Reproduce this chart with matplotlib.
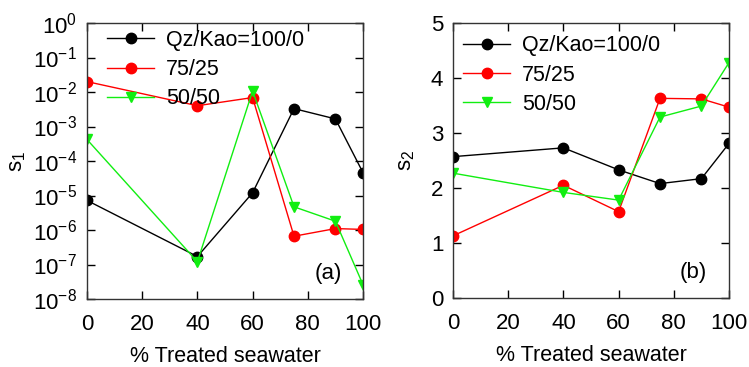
import numpy as np
import matplotlib.pyplot as plt
from matplotlib.ticker import FixedLocator, FuncFormatter

plt.rcParams['font.family'] = ['Liberation Sans', 'DejaVu Sans']
plt.rcParams['mathtext.fontset'] = 'custom'
plt.rcParams['mathtext.rm'] = 'Liberation Sans'
plt.rcParams['mathtext.it'] = 'Liberation Sans'
plt.rcParams['mathtext.default'] = 'regular'
plt.rcParams['axes.unicode_minus'] = False

# data
pct = [0, 40, 60, 75, 90, 100]
labels = ["Qz/Kao=100/0", "75/25", "50/50"]

s1_100 = [7.2e-6, 1.7e-7, 1.2e-5, 3.3e-3, 1.66e-3, 4.6e-5]
s1_75 = [2.0e-2, 4.0e-3, 6.9e-3, 6.6e-7, 1.1e-6, 1.04e-6]
s1_50 = [4.2e-4, 1.2e-7, 1.07e-2, 4.7e-6, 1.8e-6, 2.6e-8]

s2_100 = [2.57, 2.73, 2.33, 2.08, 2.17, 2.81]
s2_75 = [1.13, 2.05, 1.57, 3.63, 3.62, 3.47]
s2_50 = [2.27, 1.92, 1.78, 3.29, 3.49, 4.28]

colors = ["black", "#ff0000", "#11ee11"]
markers = ["o", "o", "v"]

fig = plt.figure(figsize=(7.49, 3.67), dpi=100)
ax1 = fig.add_axes([87 / 749, 1 - 299 / 367, 276 / 749, 276 / 367])
ax2 = fig.add_axes([453 / 749, 1 - 298 / 367, 276 / 749, 275 / 367])

def draw(ax, series, anchor):
    for ys, c, m, lab in zip(series, colors, markers, labels):
        ax.plot(pct, ys, color=c, marker=m, markersize=7.5, lw=1.0, label=lab)
    ax.tick_params(direction="in", top=True, right=True, labelsize=16,
                   length=6, width=1)
    ax.tick_params(axis="x", pad=11)
    ax.tick_params(axis="y", pad=7)
    ax.set_xlim(0, 100)
    ax.set_xticks([0, 20, 40, 60, 80, 100])
    ax.set_xlabel("% Treated seawater", fontsize=15.5, labelpad=8)
    for sp in ax.spines.values():
        sp.set_linewidth(1)
        sp.set_color("#333333")
    ax.legend(loc="upper left", frameon=False, fontsize=15.5, handlelength=2.2,
              handletextpad=0.55, labelspacing=0.38, borderaxespad=0,
              borderpad=0, bbox_to_anchor=anchor)

draw(ax1, [s1_100, s1_75, s1_50], (0.072, 0.975))
ax1.set_yscale("log")
ax1.set_ylim(1e-8, 1)
ax1.yaxis.set_major_locator(FixedLocator([10.0 ** k for k in range(-8, 1)]))
ax1.yaxis.set_minor_locator(FixedLocator([]))
ax1.yaxis.set_major_formatter(FuncFormatter(lambda v, p: r"$10^{%d}$" % round(np.log10(v))))
ax1.set_ylabel("s$_1$", fontsize=16, labelpad=4)
ax1.text(0.873, 0.094, "(a)", transform=ax1.transAxes, fontsize=16, ha="center", va="center")

draw(ax2, [s2_100, s2_75, s2_50], (0.036, 0.955))
ax2.set_ylim(0, 5)
ax2.set_yticks([0, 1, 2, 3, 4, 5])
ax2.set_ylabel("s$_2$", fontsize=16, labelpad=10)
ax2.text(0.87, 0.091, "(b)", transform=ax2.transAxes, fontsize=16, ha="center", va="center")

fig.savefig("out.png", dpi=100)
